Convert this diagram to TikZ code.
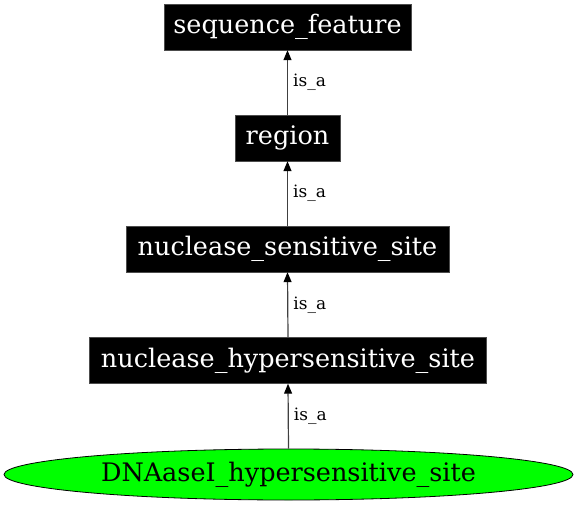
\documentclass[tikz,border=0pt]{standalone}
\usepackage{fontspec}
\setmainfont{DejaVu Serif}
\usetikzlibrary{shapes.geometric,arrows.meta}
\definecolor{nodegreen}{RGB}{0,255,0}
\begin{document}
\begin{tikzpicture}[x=1pt,y=-1pt,
  termbox/.style={fill=black,draw=black!70,text=white,minimum height=46pt,inner sep=0pt,font=\fontsize{25.5}{28}\selectfont},
  leaf/.style={ellipse,fill=nodegreen,draw=black,line width=0.8pt,minimum width=569pt,minimum height=51pt,inner sep=0pt,font=\fontsize{25.5}{28}\selectfont},
  isa/.style={draw=black!75,line width=1.2pt,-{Triangle[length=10pt,width=8pt,color=black,fill=black]}},
  lbl/.style={font=\fontsize{17}{19}\selectfont,anchor=west,inner sep=0pt}]
\useasboundingbox (0,0) rectangle (576,508);
\node[termbox,minimum width=247pt] (sf) at (287.5,27) {sequence\_feature};
\node[termbox,minimum width=105pt] (rg) at (287.5,138) {region};
\node[termbox,minimum width=323pt] (nss) at (287.5,249) {nuclease\_sensitive\_site};
\node[termbox,minimum width=397pt] (nhs) at (288,360.5) {nuclease\_hypersensitive\_site};
\node[leaf] (dna) at (288.5,474.5) {DNAaseI\_hypersensitive\_site};
\draw[isa] (rg.north) -- node[lbl,xshift=5pt] {is\_a} (sf.south);
\draw[isa] (nss.north) -- node[lbl,xshift=5pt] {is\_a} (rg.south);
\draw[isa] (nhs.north) -- node[lbl,xshift=5pt] {is\_a} (nss.south);
\draw[isa] (dna.north) -- node[lbl,xshift=5pt] {is\_a} (nhs.south);
\end{tikzpicture}
\end{document}
